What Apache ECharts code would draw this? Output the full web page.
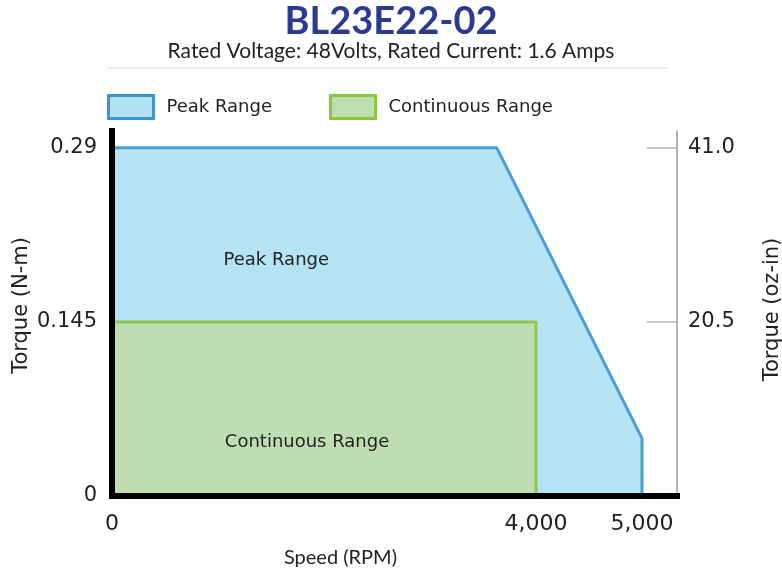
<!DOCTYPE html>
<html>
<head>
<meta charset="utf-8">
<title>BL23E22-02</title>
<script src="https://cdn.jsdelivr.net/npm/echarts@6/dist/echarts.min.js"></script>
<style>
  html, body { margin: 0; padding: 0; background: #fff; }
  #chart { width: 782px; height: 572px; }
</style>
</head>
<body>
<div id="chart"></div>
<script>
// speed (RPM) / torque (N-m) corner points
var peakSpeed = [0, 3630, 5000, 5000];
var peakTorque = [0.29, 0.29, 0.048, 0];
var contSpeed = [0, 4000, 4000];
var contTorque = [0.145, 0.145, 0];

var speedTicks = [0, 4000, 5000];
var torqueTicks = [0, 0.145, 0.29];
var ozTicks = [20.5, 41.0];

var torqueMax = 0.304;
var ozPerNm = 41.0 / 0.29;

function pairs(xs, ys) {
    var out = [];
    for (var i = 0; i < xs.length; ++i) {
        out.push([xs[i], ys[i]]);
    }
    return out;
}

var font = 'DejaVu Sans';
var narrow = 'Lato';
var dark = '#222';

var chart = echarts.init(document.getElementById('chart'));
var option = {
    backgroundColor: '#fff',
    animation: false,
    textStyle: { fontFamily: font },
    title: {
        text: 'BL23E22-02',
        subtext: 'Rated Voltage: 48Volts, Rated Current: 1.6 Amps',
        left: 'center',
        top: 3,
        padding: 0,
        itemGap: 0,
        textStyle: { fontFamily: narrow, fontSize: 38, fontWeight: 'bold', color: '#2d3a92' },
        subtextStyle: { fontFamily: narrow, fontSize: 21, color: dark }
    },
    legend: {
        left: 107,
        top: 94,
        padding: 0,
        itemWidth: 45,
        itemHeight: 23,
        itemGap: 57,
        selectedMode: false,
        textStyle: { fontFamily: font, fontSize: 18, color: dark, padding: [0, 0, 0, 8] },
        data: [
            { name: 'Peak Range', icon: 'rect',
              itemStyle: { color: '#b3e2f3', borderColor: '#3d93d3', borderWidth: 3 } },
            { name: 'Continuous Range', icon: 'rect',
              itemStyle: { color: '#bfdfb1', borderColor: '#8cc63f', borderWidth: 3 } }
        ]
    },
    graphic: [{
        type: 'line',
        shape: { x1: 107, y1: 68, x2: 667, y2: 68 },
        style: { stroke: '#dcdcdc', lineWidth: 1 }
    }],
    grid: { left: 112, right: 105, top: 131, bottom: 76, outerBoundsMode: 'none' },
    xAxis: {
        type: 'value',
        min: 0,
        max: 5330,
        z: 10,
        name: 'Speed (RPM)',
        nameLocation: 'middle',
        nameGap: 52,
        nameMoveOverlap: false,
        nameTextStyle: { fontFamily: narrow, fontSize: 20, color: dark, padding: [0, 108, 0, 0] },
        axisLine: { show: true, lineStyle: { color: '#000', width: 6, cap: 'square' } },
        axisTick: { show: false },
        splitLine: { show: false },
        axisLabel: {
            customValues: speedTicks,
            margin: 17,
            fontFamily: font,
            fontSize: 22,
            color: dark,
            formatter: function (v) { return v.toLocaleString('en-US'); }
        }
    },
    yAxis: [{
        type: 'value',
        min: 0,
        max: torqueMax,
        z: 10,
        name: 'Torque (N-m)',
        nameLocation: 'middle',
        nameRotate: 90,
        nameGap: 80,
        nameMoveOverlap: false,
        nameTextStyle: { fontFamily: font, fontSize: 21, color: dark, padding: [0, 0, 0, 16] },
        axisLine: { show: true, lineStyle: { color: '#000', width: 6, cap: 'square' } },
        axisTick: { show: false },
        splitLine: { show: false },
        axisLabel: {
            customValues: torqueTicks,
            margin: 15,
            fontFamily: font,
            fontSize: 21,
            color: dark
        }
    }, {
        type: 'value',
        position: 'right',
        min: 0,
        max: torqueMax * ozPerNm,
        z: 10,
        name: 'Torque (oz-in)',
        nameLocation: 'middle',
        nameRotate: 90,
        nameGap: 85,
        nameTextStyle: { fontFamily: font, fontSize: 21, color: dark, padding: [0, 0, 0, 8] },
        axisLine: { show: true, lineStyle: { color: '#9a9a9a', width: 1.5 } },
        axisTick: { show: true, inside: true, length: 30, customValues: ozTicks,
                    lineStyle: { color: '#b5b5b5', width: 1.5 } },
        splitLine: { show: false },
        axisLabel: {
            customValues: ozTicks,
            margin: 11,
            fontFamily: font,
            fontSize: 21,
            color: dark,
            formatter: function (v) { return v.toFixed(1); }
        }
    }],
    series: [{
        name: 'Peak Range',
        type: 'line',
        data: pairs(peakSpeed, peakTorque),
        showSymbol: false,
        lineStyle: { color: '#4a9fd9', width: 3 },
        areaStyle: { color: '#b5e3f4', opacity: 1 },
        z: 1,
        markPoint: {
            symbolSize: 0,
            label: { show: true, position: 'inside', fontFamily: font, fontSize: 18, color: dark,
                     formatter: 'Peak Range' },
            data: [{ coord: [1550, 0.196] }]
        }
    }, {
        name: 'Continuous Range',
        type: 'line',
        data: pairs(contSpeed, contTorque),
        showSymbol: false,
        lineStyle: { color: '#8dc84a', width: 3 },
        areaStyle: { color: '#bedeb2', opacity: 1 },
        z: 2,
        markPoint: {
            symbolSize: 0,
            label: { show: true, position: 'inside', fontFamily: font, fontSize: 18, color: dark,
                     formatter: 'Continuous Range' },
            data: [{ coord: [1840, 0.045] }]
        }
    }]
};
chart.setOption(option);
</script>
</body>
</html>
